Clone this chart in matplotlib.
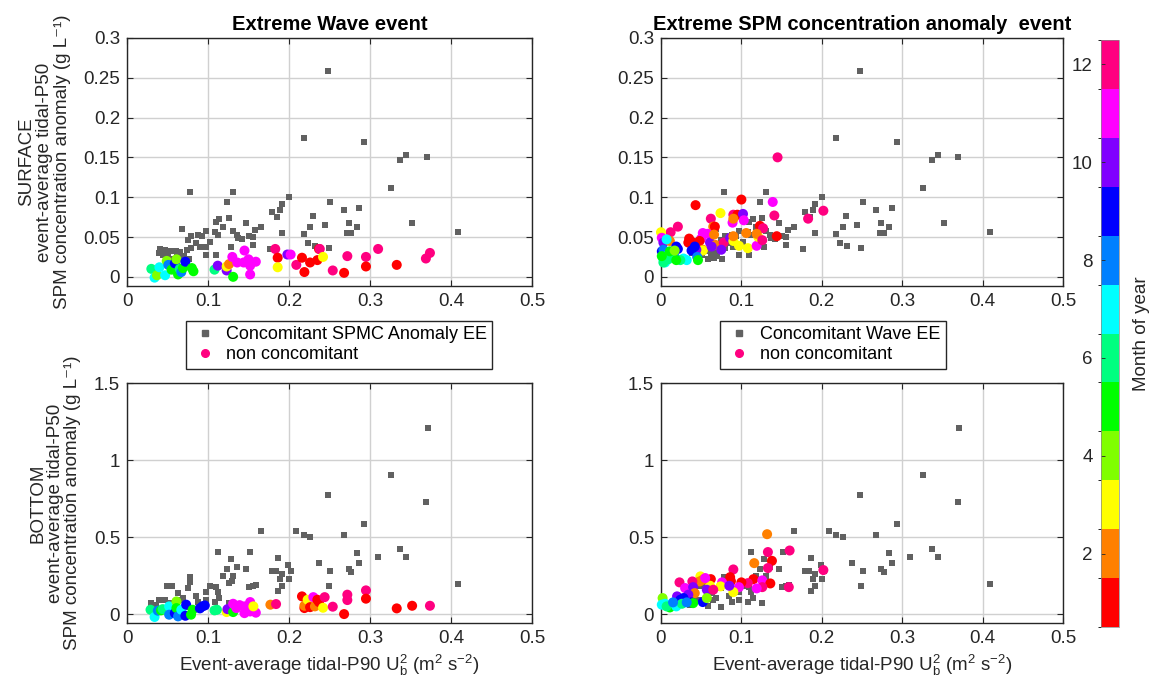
import matplotlib
matplotlib.use("Agg")
import matplotlib.pyplot as plt
import matplotlib.colors as mcolors
from matplotlib.lines import Line2D
import numpy as np

plt.rcParams["font.family"] = ["Liberation Sans", "DejaVu Sans"]
plt.rcParams["mathtext.fontset"] = "custom"
plt.rcParams["mathtext.rm"] = "Liberation Sans"
plt.rcParams["mathtext.it"] = "Liberation Sans"

# ─────────────────────────────────────────────────────────────
# Data
# ─────────────────────────────────────────────────────────────
# surface, concomitant events (grey squares, same in both top panels)
surf_conc_x = [0.248, 0.218, 0.293, 0.337, 0.344, 0.370, 0.326, 0.352, 0.409, 0.078,
               0.131, 0.123, 0.200, 0.191, 0.189, 0.179, 0.185, 0.251, 0.268, 0.287,
               0.230, 0.244, 0.226, 0.218, 0.274, 0.284, 0.272, 0.277, 0.191, 0.223,
               0.232, 0.249, 0.177, 0.126, 0.114, 0.110, 0.118, 0.131, 0.136, 0.137,
               0.142, 0.147, 0.158, 0.165, 0.151, 0.155, 0.156, 0.128, 0.110, 0.108,
               0.112, 0.097, 0.093, 0.102, 0.097, 0.097, 0.088, 0.085, 0.090, 0.079,
               0.075, 0.079, 0.068, 0.074, 0.041, 0.047, 0.053, 0.060, 0.066, 0.039,
               0.045, 0.051, 0.062, 0.070, 0.076, 0.058, 0.066]
surf_conc_y = [0.258, 0.174, 0.169, 0.147, 0.153, 0.151, 0.112, 0.068, 0.056, 0.107,
               0.107, 0.094, 0.100, 0.092, 0.084, 0.081, 0.075, 0.094, 0.084, 0.086,
               0.076, 0.065, 0.063, 0.054, 0.068, 0.062, 0.055, 0.055, 0.055, 0.042,
               0.039, 0.036, 0.035, 0.074, 0.072, 0.069, 0.063, 0.057, 0.053, 0.049,
               0.047, 0.067, 0.059, 0.063, 0.051, 0.050, 0.040, 0.037, 0.027, 0.056,
               0.052, 0.057, 0.051, 0.044, 0.037, 0.028, 0.052, 0.043, 0.038, 0.051,
               0.046, 0.036, 0.060, 0.034, 0.035, 0.034, 0.032, 0.033, 0.031, 0.030,
               0.028, 0.027, 0.028, 0.026, 0.023, 0.022, 0.024]

# surface, wave events without SPM anomaly
surf_wave_x = [0.030, 0.034, 0.037, 0.040, 0.047, 0.049, 0.051, 0.055, 0.059, 0.061,
               0.063, 0.065, 0.067, 0.069, 0.072, 0.080, 0.082, 0.108, 0.112, 0.123,
               0.123, 0.126, 0.131, 0.130, 0.136, 0.145, 0.144, 0.150, 0.152, 0.159,
               0.152, 0.183, 0.186, 0.186, 0.198, 0.202, 0.209, 0.216, 0.219, 0.226,
               0.235, 0.237, 0.238, 0.242, 0.254, 0.268, 0.272, 0.295, 0.295, 0.310,
               0.333, 0.369, 0.374]
surf_wave_y = [0.010, -0.001, 0.002, 0.012, 0.002, 0.020, 0.015, 0.009, 0.017, 0.022,
               0.003, 0.010, 0.006, 0.011, 0.019, 0.011, 0.007, 0.009, 0.014, 0.008,
               0.013, 0.016, 0.000, 0.025, 0.018, 0.033, 0.018, 0.022, 0.014, 0.019,
               0.003, 0.035, 0.024, 0.012, 0.028, 0.028, 0.015, 0.024, 0.006, 0.018,
               0.021, 0.035, 0.035, 0.025, 0.008, 0.005, 0.026, 0.025, 0.013, 0.035,
               0.015, 0.023, 0.030]
surf_wave_m = [6, 7, 4, 7, 7, 4, 8, 5, 9, 4,
               5, 6, 8, 5, 9, 5, 5, 6, 10, 10,
               3, 2, 5, 11, 11, 11, 11, 11, 11, 11,
               11, 12, 1, 3, 10, 11, 12, 1, 1, 1,
               1, 1, 12, 3, 12, 1, 12, 12, 1, 12,
               1, 12, 12]

# surface, SPM anomaly events without extreme waves
surf_spm_x = [0.145, 0.043, 0.100, 0.139, 0.074, 0.062, 0.202, 0.183, 0.141, 0.090,
              0.095, 0.102, 0.089, 0.103, 0.090, 0.123, 0.127, 0.065, 0.067, 0.021,
              0.012, 0.000, 0.001, 0.003, 0.011, 0.007, 0.035, 0.034, 0.052, 0.050,
              0.048, 0.058, 0.061, 0.066, 0.068, 0.078, 0.075, 0.086, 0.090, 0.090,
              0.097, 0.106, 0.108, 0.119, 0.121, 0.119, 0.126, 0.144, 0.052, 0.052,
              0.040, 0.044, 0.063, 0.001, 0.019, 0.021, 0.038, 0.042, 0.017, 0.045,
              0.003, 0.007, 0.005, 0.028, 0.032, 0.003, 0.003, 0.009, 0.013, 0.024,
              0.001, 0.019, 0.046, 0.011, 0.017]
surf_spm_y = [0.150, 0.090, 0.097, 0.094, 0.080, 0.073, 0.083, 0.073, 0.077, 0.078,
              0.078, 0.079, 0.068, 0.071, 0.073, 0.064, 0.061, 0.063, 0.063, 0.063,
              0.056, 0.056, 0.049, 0.043, 0.045, 0.047, 0.048, 0.043, 0.055, 0.048,
              0.045, 0.054, 0.043, 0.053, 0.040, 0.043, 0.034, 0.049, 0.045, 0.051,
              0.039, 0.055, 0.036, 0.039, 0.050, 0.054, 0.046, 0.051, 0.034, 0.033,
              0.043, 0.034, 0.038, 0.032, 0.038, 0.035, 0.033, 0.038, 0.025, 0.025,
              0.034, 0.026, 0.018, 0.023, 0.021, 0.022, 0.018, 0.022, 0.026, 0.021,
              0.026, 0.021, 0.021, 0.032, 0.033]
surf_spm_m = [12, 1, 1, 11, 3, 12, 12, 12, 12, 12,
              1, 10, 11, 11, 2, 1, 12, 2, 1, 12,
              12, 3, 11, 10, 2, 7, 1, 1, 11, 11,
              1, 11, 10, 2, 2, 12, 10, 10, 3, 2,
              3, 2, 3, 11, 3, 2, 12, 1, 2, 3,
              1, 10, 10, 9, 9, 9, 9, 9, 8, 8,
              8, 7, 7, 7, 7, 7, 6, 6, 6, 6,
              5, 5, 5, 5, 4]

# bottom, concomitant events (grey squares, same in both bottom panels)
bot_conc_x = [0.371, 0.326, 0.369, 0.248, 0.293, 0.166, 0.209, 0.218, 0.226, 0.268,
              0.337, 0.344, 0.310, 0.284, 0.287, 0.237, 0.251, 0.274, 0.277, 0.249,
              0.409, 0.112, 0.152, 0.128, 0.186, 0.199, 0.203, 0.179, 0.184, 0.191,
              0.189, 0.200, 0.191, 0.186, 0.136, 0.123, 0.147, 0.118, 0.131, 0.129,
              0.126, 0.151, 0.155, 0.159, 0.102, 0.110, 0.112, 0.114, 0.108, 0.097,
              0.097, 0.126, 0.078, 0.078, 0.075, 0.049, 0.056, 0.063, 0.069, 0.085,
              0.088, 0.065, 0.030, 0.040, 0.047, 0.053, 0.036, 0.059, 0.075]
bot_conc_y = [1.21, 0.903, 0.725, 0.773, 0.584, 0.539, 0.539, 0.513, 0.504, 0.513,
              0.422, 0.368, 0.372, 0.400, 0.331, 0.331, 0.281, 0.290, 0.271, 0.182,
              0.197, 0.403, 0.403, 0.357, 0.366, 0.320, 0.279, 0.281, 0.281, 0.262,
              0.227, 0.225, 0.184, 0.152, 0.303, 0.294, 0.290, 0.245, 0.245, 0.212,
              0.201, 0.173, 0.184, 0.190, 0.184, 0.173, 0.145, 0.104, 0.078, 0.145,
              0.093, 0.071, 0.242, 0.210, 0.167, 0.184, 0.184, 0.136, 0.104, 0.115,
              0.076, 0.093, 0.071, 0.093, 0.089, 0.071, 0.061, 0.050, 0.045]

# bottom, wave events without SPM anomaly
bot_wave_x = [0.029, 0.034, 0.038, 0.042, 0.049, 0.044, 0.052, 0.052, 0.059, 0.061,
              0.061, 0.063, 0.067, 0.072, 0.073, 0.079, 0.081, 0.090, 0.093, 0.096,
              0.108, 0.111, 0.123, 0.124, 0.131, 0.131, 0.135, 0.139, 0.145, 0.152,
              0.145, 0.152, 0.159, 0.156, 0.177, 0.184, 0.216, 0.219, 0.219, 0.223,
              0.226, 0.230, 0.232, 0.235, 0.237, 0.242, 0.244, 0.254, 0.268, 0.272,
              0.272, 0.295, 0.295, 0.333, 0.352, 0.374]
bot_wave_y = [0.028, -0.019, 0.022, 0.024, 0.024, 0.032, 0.050, -0.004, 0.006, 0.082,
              0.039, -0.015, 0.028, -0.011, 0.061, -0.004, 0.028, 0.037, 0.050, 0.056,
              0.024, 0.028, 0.013, 0.032, 0.013, 0.067, 0.039, 0.058, 0.050, 0.078,
              0.006, 0.017, 0.009, 0.050, 0.061, 0.065, 0.115, 0.039, 0.054, 0.093,
              0.045, 0.110, 0.050, 0.093, 0.078, 0.041, 0.110, 0.048, 0.000, 0.126,
              0.091, 0.154, 0.100, 0.037, 0.054, 0.054]
bot_wave_m = [6, 7, 8, 5, 4, 6, 7, 8, 9, 4,
              5, 8, 7, 9, 9, 5, 5, 9, 9, 9,
              6, 6, 3, 10, 5, 11, 11, 11, 11, 11,
              11, 11, 11, 3, 2, 12, 1, 1, 2, 3,
              1, 11, 2, 1, 1, 3, 12, 12, 1, 12,
              12, 12, 1, 1, 1, 12]

# bottom, SPM anomaly events without extreme waves
bot_spm_x = [0.132, 0.160, 0.133, 0.138, 0.116, 0.133, 0.202, 0.090, 0.086, 0.087,
             0.115, 0.126, 0.136, 0.159, 0.126, 0.119, 0.108, 0.100, 0.097, 0.090,
             0.076, 0.074, 0.062, 0.061, 0.049, 0.052, 0.048, 0.055, 0.039, 0.023,
             0.030, 0.040, 0.042, 0.057, 0.065, 0.085, 0.020, 0.034, 0.024, 0.028,
             0.038, 0.052, 0.040, 0.057, 0.002, 0.001, 0.005, 0.011, 0.007, 0.019,
             0.026, 0.015, 0.032]
bot_spm_y = [0.519, 0.413, 0.403, 0.346, 0.331, 0.299, 0.286, 0.290, 0.240, 0.214,
             0.227, 0.219, 0.199, 0.175, 0.175, 0.167, 0.201, 0.206, 0.175, 0.143,
             0.206, 0.180, 0.227, 0.184, 0.245, 0.223, 0.212, 0.234, 0.212, 0.206,
             0.169, 0.175, 0.136, 0.158, 0.158, 0.184, 0.115, 0.126, 0.093, 0.104,
             0.076, 0.078, 0.071, 0.104, 0.104, 0.061, 0.067, 0.043, 0.050, 0.050,
             0.067, 0.076, 0.076]
bot_spm_m = [2, 12, 12, 1, 2, 12, 12, 12, 1, 1,
             1, 11, 1, 12, 12, 11, 12, 1, 11, 3,
             11, 3, 1, 3, 3, 2, 2, 11, 12, 12,
             11, 10, 2, 10, 12, 10, 10, 10, 9, 9,
             9, 9, 5, 4, 4, 7, 7, 5, 6, 7,
             6, 8, 8]

months = np.arange(1, 13)

# ─────────────────────────────────────────────────────────────
# Colours: 12-step hsv map, one colour per month
# ─────────────────────────────────────────────────────────────
hsv12 = mcolors.hsv_to_rgb(np.column_stack([(months - 1) / 12.0,
                                            np.ones(12), np.ones(12)]))
cmap = mcolors.ListedColormap(hsv12)
norm = mcolors.BoundaryNorm(np.arange(0.5, 13.5, 1.0), cmap.N)
GREY = "#616161"
TXT = "#262626"

# ─────────────────────────────────────────────────────────────
# Figure
# ─────────────────────────────────────────────────────────────
fig = plt.figure(figsize=(11.57, 6.95), dpi=100)
ax_tl = fig.add_axes([0.1098, 0.5885, 0.350, 0.357])
ax_tr = fig.add_axes([0.5713, 0.5885, 0.3474, 0.357])
ax_bl = fig.add_axes([0.1098, 0.1036, 0.350, 0.345])
ax_br = fig.add_axes([0.5713, 0.1036, 0.3474, 0.345])
cax = fig.add_axes([0.9516, 0.0978, 0.0156, 0.8446])

panels = [
    (ax_tl, surf_conc_x, surf_conc_y, surf_wave_x, surf_wave_y, surf_wave_m, "top"),
    (ax_tr, surf_conc_x, surf_conc_y, surf_spm_x, surf_spm_y, surf_spm_m, "top"),
    (ax_bl, bot_conc_x, bot_conc_y, bot_wave_x, bot_wave_y, bot_wave_m, "bot"),
    (ax_br, bot_conc_x, bot_conc_y, bot_spm_x, bot_spm_y, bot_spm_m, "bot"),
]

for ax, gx, gy, cx, cy, cm, row in panels:
    ax.scatter(gx, gy, s=24, marker="s", c=GREY, linewidths=0, zorder=3)
    ax.scatter(cx, cy, s=52, marker="o", c=cm, cmap=cmap, norm=norm,
               linewidths=0, zorder=4, clip_on=False)
    ax.set_xlim(0, 0.5)
    ax.set_xticks([0, 0.1, 0.2, 0.3, 0.4, 0.5])
    ax.set_xticklabels(["0", "0.1", "0.2", "0.3", "0.4", "0.5"])
    if row == "top":
        ax.set_ylim(-0.0115, 0.3)
        ax.set_yticks([0, 0.05, 0.1, 0.15, 0.2, 0.25, 0.3])
        ax.set_yticklabels(["0", "0.05", "0.1", "0.15", "0.2", "0.25", "0.3"])
    else:
        ax.set_ylim(-0.058, 1.5)
        ax.set_yticks([0, 0.5, 1, 1.5])
        ax.set_yticklabels(["0", "0.5", "1", "1.5"])
    ax.grid(True, color="#d0d0d0", linewidth=1.0, zorder=0)
    ax.set_axisbelow(True)
    ax.tick_params(direction="in", length=4, width=0.8, top=True, right=True,
                   labelsize=13.5, colors="#262626", pad=5)
    for sp in ax.spines.values():
        sp.set_linewidth(1.0)
        sp.set_color(TXT)

ax_tl.set_title("Extreme Wave event", fontsize=14.5, fontweight="bold", pad=6)
ax_tr.set_title("Extreme SPM concentration anomaly  event", fontsize=14.5,
                fontweight="bold", pad=6)

ylab = "{}\nevent-average tidal-P50\nSPM concentration anomaly (g L\u207b\u00b9)"
ax_tl.set_ylabel(ylab.format("SURFACE"), fontsize=13.5, color=TXT,
                 linespacing=1.05, labelpad=9)
ax_bl.set_ylabel(ylab.format("BOTTOM"), fontsize=13.5, color=TXT,
                 linespacing=1.05, labelpad=9)
xlab = "Event-average tidal-P90 U$_b^2$ (m$^2$ s$^{-2}$)"
ax_bl.set_xlabel(xlab, fontsize=13.5, color=TXT, labelpad=4)
ax_br.set_xlabel(xlab, fontsize=13.5, color=TXT, labelpad=4)

# Legends under the surface panels
sq = Line2D([], [], marker="s", color=GREY, linestyle="none", markersize=4.5)
dot = Line2D([], [], marker="o", color=hsv12[11], linestyle="none",
             markersize=5.5)
for ax, lab, x0 in [(ax_tl, "Concomitant SPMC Anomaly EE", 186 / 1157),
                    (ax_tr, "Concomitant Wave EE", 720 / 1157)]:
    leg = fig.legend([sq, dot], [lab, "non concomitant"],
                     loc="upper left", bbox_to_anchor=(x0, 1 - 321 / 695),
                     fontsize=13, frameon=True, fancybox=False, framealpha=1,
                     edgecolor=TXT, borderpad=0.3, labelspacing=0.15,
                     handletextpad=0.4, handlelength=1.5, borderaxespad=0)
    leg.get_frame().set_linewidth(1.0)

# Colour bar: ticks on the left, label on the right
sm = plt.cm.ScalarMappable(cmap=cmap, norm=norm)
cb = fig.colorbar(sm, cax=cax, ticks=[2, 4, 6, 8, 10, 12],
                  ticklocation="left")
cb.outline.set_linewidth(0.5)
cb.outline.set_edgecolor("#888888")
cax.tick_params(direction="in", length=3, width=0.6, labelsize=13.5,
                colors=TXT, pad=6)
cb.set_label("Month of year", fontsize=13.5, color=TXT)
cax.yaxis.set_label_position("right")
cax.yaxis.labelpad = 10

fig.savefig("out.png", dpi=100, facecolor="white")
